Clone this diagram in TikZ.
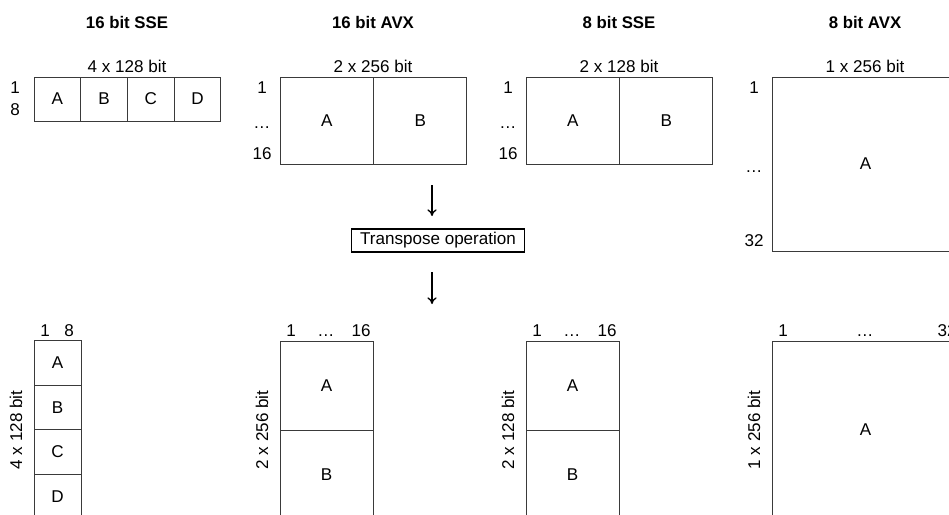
\documentclass[tikz,border=0pt]{standalone}
\usepackage{fontspec}
\setmainfont{Liberation Sans}
\usetikzlibrary{arrows.meta}
\definecolor{boxline}{HTML}{3A3A3A}
\begin{document}
\begin{tikzpicture}[x=0.75pt,y=-0.75pt,
  every node/.style={font=\fontsize{12.8}{15}\selectfont, inner sep=0pt},
  cell/.style={draw=boxline, line width=0.75pt, fill=white},
  title/.style={font=\fontsize{12.6}{15}\selectfont\bfseries},
  lab/.style={text height=9.2pt, text depth=0pt},
  arr/.style={-{To[length=5pt,width=7pt]}, line width=1pt},
  opbox/.style={draw=black, line width=1.3pt, inner xsep=6.5pt, minimum height=17pt}]
\clip (0,0) rectangle (949,514);
\fill[white] (0,0) rectangle (949,514);
% titles
\node[title] (t1) at (127,22) {16 bit SSE};
\node[title] (t2) at (373,22) {16 bit AVX};
\node[title] (t3) at (619,22) {8 bit SSE};
\node[title] (t4) at (865,22) {8 bit AVX};
% ---------- top row ----------
% 16 bit SSE
\node[cell, minimum width=35pt, minimum height=33pt] (a1) at (57.4,99) {A};
\node[cell, minimum width=35pt, minimum height=33pt] (b1) at (104.1,99) {B};
\node[cell, minimum width=35pt, minimum height=33pt] (c1) at (150.9,99) {C};
\node[cell, minimum width=35pt, minimum height=33pt] (d1) at (197.6,99) {D};
\node[lab] (w1) at (127,66) {4 x 128 bit};
\node[lab] (r1a) at (15,87) {1};
\node[lab] (r1b) at (15,109) {8};
% 16 bit AVX
\node[cell, minimum width=70.1pt, minimum height=65.25pt] (a2) at (326.75,120.5) {A};
\node[cell, minimum width=70.1pt, minimum height=65.25pt] (b2) at (420.25,120.5) {B};
\node[lab] (w2) at (373,66) {2 x 256 bit};
\node[lab] (r2a) at (262,87) {1};
\node[lab] (r2b) at (262,122) {…};
\node[lab] (r2c) at (262,153) {16};
% 8 bit SSE
\node[cell, minimum width=70.1pt, minimum height=65.25pt] (a3) at (572.75,120.5) {A};
\node[cell, minimum width=70.1pt, minimum height=65.25pt] (b3) at (666.25,120.5) {B};
\node[lab] (w3) at (619,66) {2 x 128 bit};
\node[lab] (r3a) at (508,87) {1};
\node[lab] (r3b) at (508,122) {…};
\node[lab] (r3c) at (508,153) {16};
% 8 bit AVX
\node[cell, minimum width=140.25pt, minimum height=130.5pt] (a4) at (865.5,164) {A};
\node[lab] (w4) at (865,66) {1 x 256 bit};
\node[lab] (r4a) at (754,87) {1};
\node[lab] (r4b) at (754,166) {…};
\node[lab] (r4c) at (754,240) {32};
% ---------- transpose ----------
\coordinate (ar1s) at (432,185);
\coordinate (ar1e) at (432,216);
\node[opbox] (op) at (438,240.5) {Transpose operation};
\coordinate (ar2s) at (432,272);
\coordinate (ar2e) at (432,304);
\draw[arr] (ar1s) -- (ar1e);
\draw[arr] (ar2s) -- (ar2e);
% ---------- bottom row ----------
% 16 bit SSE
\node[cell, minimum width=35.25pt, minimum height=33.2pt] (ba1) at (57.5,363) {A};
\node[cell, minimum width=35.25pt, minimum height=33.2pt] (bb1) at (57.5,407.5) {B};
\node[cell, minimum width=35.25pt, minimum height=33.2pt] (bc1) at (57.5,452) {C};
\node[cell, minimum width=35.25pt, minimum height=33.2pt] (bd1) at (57.5,496.5) {D};
\node[lab] (bc1a) at (45,330) {1};
\node[lab] (bc1b) at (69,330) {8};
\node[lab, rotate=90] (bw1) at (16,430) {4 x 128 bit};
% 16 bit AVX
\node[cell, minimum width=69.75pt, minimum height=66.75pt] (ba2) at (326.5,385.5) {A};
\node[cell, minimum width=69.75pt, minimum height=66.75pt] (bb2) at (326.5,474.5) {B};
\node[lab] (bc2a) at (291,330) {1};
\node[lab] (bc2b) at (326,330) {…};
\node[lab] (bc2c) at (361,330) {16};
\node[lab, rotate=90] (bw2) at (262,430) {2 x 256 bit};
% 8 bit SSE
\node[cell, minimum width=69.75pt, minimum height=66.75pt] (ba3) at (572.5,385.5) {A};
\node[cell, minimum width=69.75pt, minimum height=66.75pt] (bb3) at (572.5,474.5) {B};
\node[lab] (bc3a) at (537,330) {1};
\node[lab] (bc3b) at (572,330) {…};
\node[lab] (bc3c) at (607,330) {16};
\node[lab, rotate=90] (bw3) at (508,430) {2 x 128 bit};
% 8 bit AVX
\node[cell, minimum width=140.25pt, minimum height=133.5pt] (ba4) at (865.5,430) {A};
\node[lab] (bc4a) at (783,330) {1};
\node[lab] (bc4b) at (865,330) {…};
\node[lab] (bc4c) at (947,330) {32};
\node[lab, rotate=90] (bw4) at (754,430) {1 x 256 bit};
\end{tikzpicture}
\end{document}
